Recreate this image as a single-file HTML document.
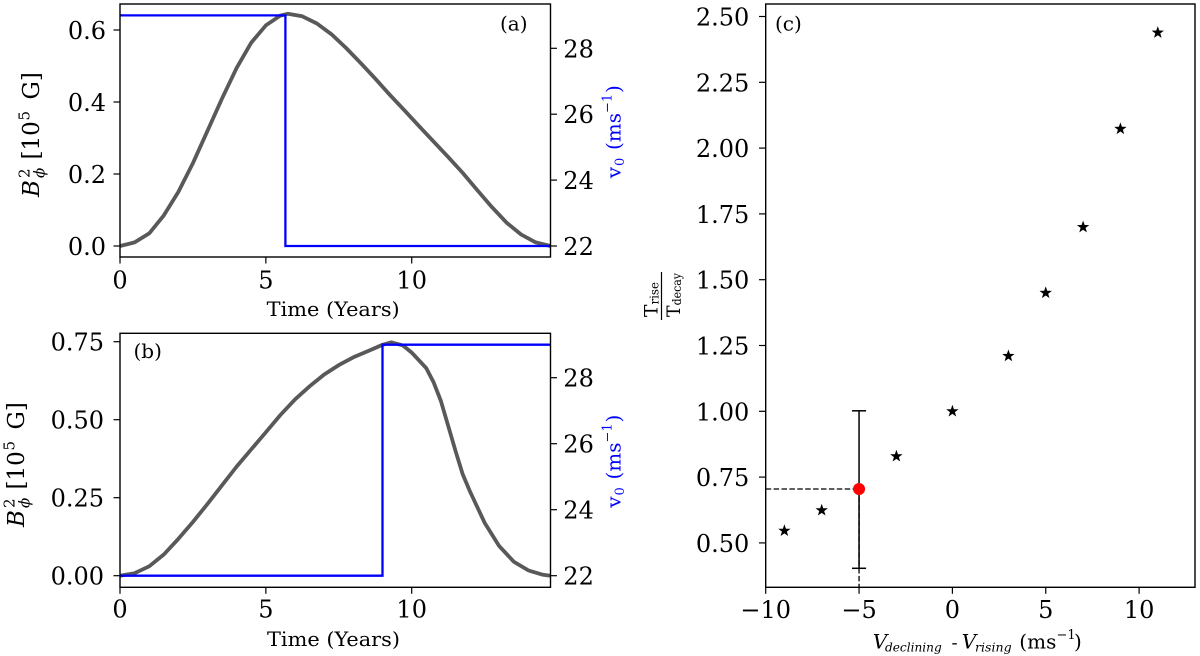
<!DOCTYPE html>
<html><head><meta charset="utf-8"><style>
html,body{margin:0;padding:0;background:#fff;width:1200px;height:656px;overflow:hidden}
svg{display:block}
text{font-family:"DejaVu Serif","Liberation Serif",serif;fill:#000}
.tk{font-size:24px}
.lab{font-size:20px}
</style></head><body>
<svg width="1200" height="656" viewBox="0 0 1200 656" xmlns="http://www.w3.org/2000/svg">
<rect width="1200" height="656" fill="#fff"/>

<!-- ================= Panel (a) ================= -->
<polyline fill="none" stroke="#595959" stroke-width="3.8" stroke-linejoin="round" points="120,246 134.6,242.4 149.2,233.4 163.8,215.4 178.3,192 192.9,163.2 207.5,130.8 222.1,98.4 236.7,67.8 251.3,42.6 265.9,25.3 280.4,15.6 287.7,13.8 302.3,16.3 316.9,23.5 331.5,34.3 346.1,48 360.7,63.1 375.2,78.6 389.8,94.8 404.4,110.3 419,126.1 433.6,141.6 448.2,157.1 462.7,172.9 477.3,190.2 491.9,207.1 506.5,222.6 521.1,234.5 535.7,242.4 550.5,246"/>
<polyline fill="none" stroke="#0000ff" stroke-width="2.3" points="120,15.4 285.4,15.4 285.4,246 550.5,246"/>
<rect x="120" y="4" width="430.5" height="253" fill="none" stroke="#000" stroke-width="1.4"/>
<g stroke="#000" stroke-width="1.2">
<line x1="113.5" y1="246" x2="120" y2="246"/><line x1="113.5" y1="174" x2="120" y2="174"/><line x1="113.5" y1="102" x2="120" y2="102"/><line x1="113.5" y1="30" x2="120" y2="30"/>
<line x1="550.5" y1="246" x2="557" y2="246"/><line x1="550.5" y1="180.1" x2="557" y2="180.1"/><line x1="550.5" y1="114.2" x2="557" y2="114.2"/><line x1="550.5" y1="48.3" x2="557" y2="48.3"/>
<line x1="120" y1="257" x2="120" y2="263.5"/><line x1="265.85" y1="257" x2="265.85" y2="263.5"/><line x1="411.7" y1="257" x2="411.7" y2="263.5"/>
</g>
<g class="tk" text-anchor="end">
<text x="106" y="255">0.0</text><text x="106" y="183">0.2</text><text x="106" y="111">0.4</text><text x="106" y="39">0.6</text>
</g>
<g class="tk">
<text x="563.3" y="255">22</text><text x="563.3" y="189.1">24</text><text x="563.3" y="123.2">26</text><text x="563.3" y="57.3">28</text>
</g>
<g class="tk" text-anchor="middle">
<text x="120" y="288.5">0</text><text x="265.85" y="288.5">5</text><text x="411.7" y="288.5">10</text>
</g>
<text class="lab" x="266.7" y="316" textLength="133" lengthAdjust="spacingAndGlyphs">Time (Years)</text>
<text class="lab" x="500" y="30.5">(a)</text>
<g transform="translate(39,130.5) rotate(-90)">
<text x="-66.5" y="0" font-size="23" font-style="italic">B</text>
<text x="-47.5" y="-9.5" font-size="15">2</text>
<text x="-47.5" y="5.5" font-size="15" font-style="italic">ϕ</text>
<text x="-29" y="0" font-size="23">[10</text>
<text x="10" y="-9.5" font-size="15">5</text>
<text x="31" y="0" font-size="23">G]</text>
</g>
<g transform="translate(620.5,131.5) rotate(-90)">
<text x="-46.8" y="0" font-size="20" style="fill:#0000ff">v</text>
<text x="-34.5" y="3.5" font-size="13" style="fill:#0000ff">0</text>
<text x="-18.5" y="0" font-size="20" style="fill:#0000ff">(ms</text>
<text x="18.5" y="-9" font-size="13" style="fill:#0000ff">−1</text>
<text x="38.5" y="0" font-size="20" style="fill:#0000ff">)</text>
</g>

<!-- ================= Panel (b) ================= -->
<polyline fill="none" stroke="#595959" stroke-width="3.8" stroke-linejoin="round" points="120,575.7 134.6,573.2 149.2,566.3 163.8,554.5 178.3,538.9 192.9,522 207.5,503.9 222.1,485.2 236.7,466.5 251.3,449.3 265.9,432.2 280.4,415 295,399.4 309.6,386.3 324.2,374.5 338.8,365.1 353.4,357.3 367.9,351.1 382.5,344.8 391.3,342.3 402.9,345.4 411.7,352.6 426.3,368.2 433.6,382.3 440.9,401 448.2,425.9 455.5,450.9 462.7,474.3 470,491.5 484.6,522.7 499.2,546.1 513.8,561.7 528.4,570.4 543,574.8 550.5,575.7"/>
<polyline fill="none" stroke="#0000ff" stroke-width="2.3" points="120,575.7 382.5,575.7 382.5,344.7 550.5,344.7"/>
<rect x="120" y="333.3" width="430.5" height="254" fill="none" stroke="#000" stroke-width="1.4"/>
<g stroke="#000" stroke-width="1.2">
<line x1="113.5" y1="575.7" x2="120" y2="575.7"/><line x1="113.5" y1="497.7" x2="120" y2="497.7"/><line x1="113.5" y1="419.7" x2="120" y2="419.7"/><line x1="113.5" y1="341.7" x2="120" y2="341.7"/>
<line x1="550.5" y1="575.7" x2="557" y2="575.7"/><line x1="550.5" y1="509.7" x2="557" y2="509.7"/><line x1="550.5" y1="443.7" x2="557" y2="443.7"/><line x1="550.5" y1="377.7" x2="557" y2="377.7"/>
<line x1="120" y1="587.3" x2="120" y2="593.8"/><line x1="265.85" y1="587.3" x2="265.85" y2="593.8"/><line x1="411.7" y1="587.3" x2="411.7" y2="593.8"/>
</g>
<g class="tk" text-anchor="end">
<text x="104" y="584.7">0.00</text><text x="104" y="506.7">0.25</text><text x="104" y="428.7">0.50</text><text x="104" y="350.7">0.75</text>
</g>
<g class="tk">
<text x="563.3" y="584.7">22</text><text x="563.3" y="518.7">24</text><text x="563.3" y="452.7">26</text><text x="563.3" y="386.7">28</text>
</g>
<g class="tk" text-anchor="middle">
<text x="120" y="617.5">0</text><text x="265.85" y="617.5">5</text><text x="411.7" y="617.5">10</text>
</g>
<text class="lab" x="267" y="646" textLength="133" lengthAdjust="spacingAndGlyphs">Time (Years)</text>
<text class="lab" x="133.5" y="358">(b)</text>
<g transform="translate(24,460.5) rotate(-90)">
<text x="-66.5" y="0" font-size="23" font-style="italic">B</text>
<text x="-47.5" y="-9.5" font-size="15">2</text>
<text x="-47.5" y="5.5" font-size="15" font-style="italic">ϕ</text>
<text x="-29" y="0" font-size="23">[10</text>
<text x="10" y="-9.5" font-size="15">5</text>
<text x="31" y="0" font-size="23">G]</text>
</g>
<g transform="translate(620.5,461) rotate(-90)">
<text x="-46.8" y="0" font-size="20" style="fill:#0000ff">v</text>
<text x="-34.5" y="3.5" font-size="13" style="fill:#0000ff">0</text>
<text x="-18.5" y="0" font-size="20" style="fill:#0000ff">(ms</text>
<text x="18.5" y="-9" font-size="13" style="fill:#0000ff">−1</text>
<text x="38.5" y="0" font-size="20" style="fill:#0000ff">)</text>
</g>

<!-- ================= Panel (c) ================= -->
<g stroke="#000" stroke-width="1.3" stroke-dasharray="5.5 2.4" fill="none">
<line x1="765.7" y1="489" x2="859.05" y2="489"/>
<line x1="859.05" y1="489" x2="859.05" y2="587.3"/>
</g>
<g stroke="#000" stroke-width="1.5">
<line x1="859.05" y1="410.8" x2="859.05" y2="568.3"/>
<line x1="852" y1="410.8" x2="866.1" y2="410.8"/>
<line x1="852" y1="568.3" x2="866.1" y2="568.3"/>
</g>
<circle cx="859.05" cy="489" r="6" fill="#ff0000"/>
<g fill="#000">
<polygon transform="translate(784.4,530.8)" points="0,-6.5 1.53,-2.1 6.18,-2.01 2.47,0.8 3.82,5.26 0,2.6 -3.82,5.26 -2.47,0.8 -6.18,-2.01 -1.53,-2.1"/>
<polygon transform="translate(821.7,510.3)" points="0,-6.5 1.53,-2.1 6.18,-2.01 2.47,0.8 3.82,5.26 0,2.6 -3.82,5.26 -2.47,0.8 -6.18,-2.01 -1.53,-2.1"/>
<polygon transform="translate(896.4,456.3)" points="0,-6.5 1.53,-2.1 6.18,-2.01 2.47,0.8 3.82,5.26 0,2.6 -3.82,5.26 -2.47,0.8 -6.18,-2.01 -1.53,-2.1"/>
<polygon transform="translate(952.4,411.3)" points="0,-6.5 1.53,-2.1 6.18,-2.01 2.47,0.8 3.82,5.26 0,2.6 -3.82,5.26 -2.47,0.8 -6.18,-2.01 -1.53,-2.1"/>
<polygon transform="translate(1008.4,356)" points="0,-6.5 1.53,-2.1 6.18,-2.01 2.47,0.8 3.82,5.26 0,2.6 -3.82,5.26 -2.47,0.8 -6.18,-2.01 -1.53,-2.1"/>
<polygon transform="translate(1045.7,292.9)" points="0,-6.5 1.53,-2.1 6.18,-2.01 2.47,0.8 3.82,5.26 0,2.6 -3.82,5.26 -2.47,0.8 -6.18,-2.01 -1.53,-2.1"/>
<polygon transform="translate(1083.1,227.1)" points="0,-6.5 1.53,-2.1 6.18,-2.01 2.47,0.8 3.82,5.26 0,2.6 -3.82,5.26 -2.47,0.8 -6.18,-2.01 -1.53,-2.1"/>
<polygon transform="translate(1120.4,128.9)" points="0,-6.5 1.53,-2.1 6.18,-2.01 2.47,0.8 3.82,5.26 0,2.6 -3.82,5.26 -2.47,0.8 -6.18,-2.01 -1.53,-2.1"/>
<polygon transform="translate(1157.8,32.6)" points="0,-6.5 1.53,-2.1 6.18,-2.01 2.47,0.8 3.82,5.26 0,2.6 -3.82,5.26 -2.47,0.8 -6.18,-2.01 -1.53,-2.1"/>
</g>
<rect x="765.7" y="4" width="429.3" height="583.3" fill="none" stroke="#000" stroke-width="1.4"/>
<g stroke="#000" stroke-width="1.2">
<line x1="759" y1="16.5" x2="765.7" y2="16.5"/><line x1="759" y1="82.3" x2="765.7" y2="82.3"/><line x1="759" y1="148.1" x2="765.7" y2="148.1"/><line x1="759" y1="213.9" x2="765.7" y2="213.9"/><line x1="759" y1="279.7" x2="765.7" y2="279.7"/><line x1="759" y1="345.5" x2="765.7" y2="345.5"/><line x1="759" y1="411.3" x2="765.7" y2="411.3"/><line x1="759" y1="477.1" x2="765.7" y2="477.1"/><line x1="759" y1="542.9" x2="765.7" y2="542.9"/>
<line x1="765.7" y1="587.3" x2="765.7" y2="593.8"/><line x1="859.05" y1="587.3" x2="859.05" y2="593.8"/><line x1="952.4" y1="587.3" x2="952.4" y2="593.8"/><line x1="1045.75" y1="587.3" x2="1045.75" y2="593.8"/><line x1="1139.1" y1="587.3" x2="1139.1" y2="593.8"/>
</g>
<g class="tk" text-anchor="end">
<text x="749.3" y="25.5">2.50</text><text x="749.3" y="91.3">2.25</text><text x="749.3" y="157.1">2.00</text><text x="749.3" y="222.9">1.75</text><text x="749.3" y="288.7">1.50</text><text x="749.3" y="354.5">1.25</text><text x="749.3" y="420.3">1.00</text><text x="749.3" y="486.1">0.75</text><text x="749.3" y="551.9">0.50</text>
</g>
<g class="tk" text-anchor="middle">
<text x="765.7" y="618">−10</text><text x="859.05" y="618">−5</text><text x="952.4" y="618">0</text><text x="1045.75" y="618">5</text><text x="1139.1" y="618">10</text>
</g>
<text class="lab" x="775" y="30.5">(c)</text>
<!-- x label -->
<text x="872.7" y="648.3" font-size="20" font-style="italic">V</text>
<text x="885" y="651.5" font-size="12.5" font-style="italic" textLength="56.7" lengthAdjust="spacingAndGlyphs">declining</text>
<text x="951.5" y="648.3" font-size="18">-</text>
<text x="961.7" y="648.3" font-size="20" font-style="italic">V</text>
<text x="975" y="651.5" font-size="12.5" font-style="italic" textLength="36.7" lengthAdjust="spacingAndGlyphs">rising</text>
<text x="1019.3" y="648.3" font-size="20">(ms</text>
<text x="1056.5" y="639" font-size="13">−1</text>
<text x="1074" y="648.3" font-size="20">)</text>
<!-- y label fraction -->
<g transform="translate(661.5,296) rotate(-90)">
<text x="-21" y="-4" font-size="19" textLength="35" lengthAdjust="spacingAndGlyphs">T<tspan font-size="12" dy="1">rise</tspan></text>
<line x1="-24" y1="0" x2="24" y2="0" stroke="#000" stroke-width="1.2"/>
<text x="-21" y="18.5" font-size="19" textLength="44" lengthAdjust="spacingAndGlyphs">T<tspan font-size="12" dy="1">decay</tspan></text>
</g>
</svg>
</body></html>
